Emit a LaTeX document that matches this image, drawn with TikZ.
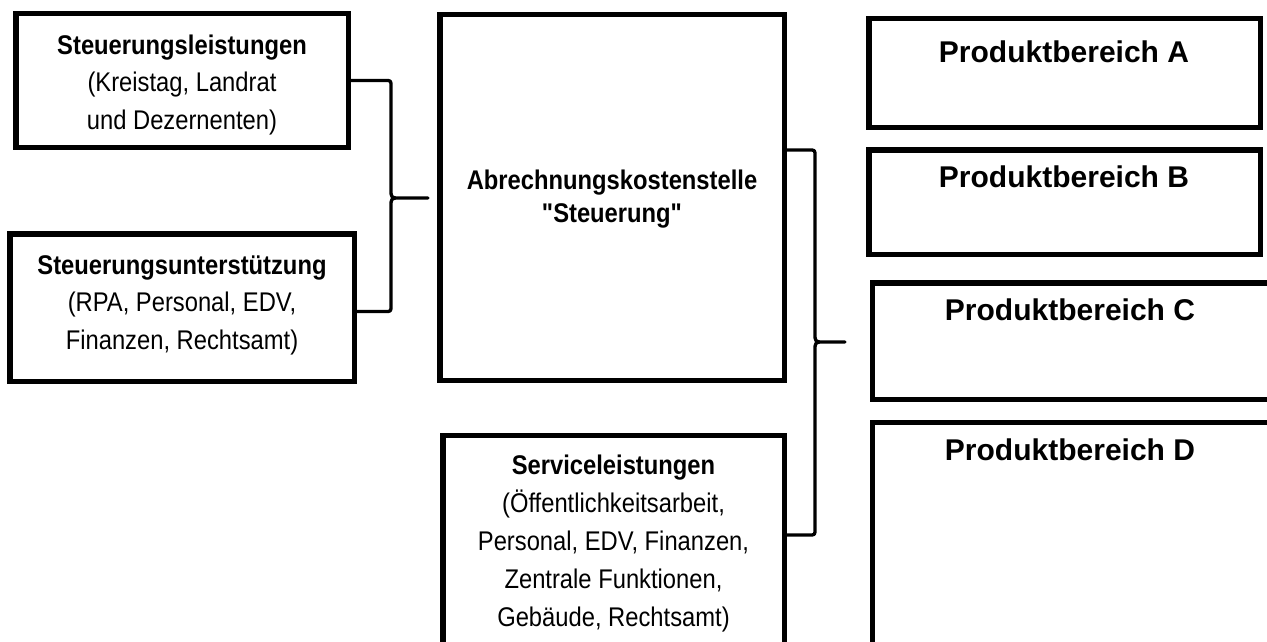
\documentclass[tikz,border=0pt]{standalone}
\usepackage{fontspec}
\setmainfont{Liberation Sans}
\newfontfamily\nar[FakeStretch=0.88]{Liberation Sans}
\begin{document}
\begin{tikzpicture}[x=1pt,y=-1pt,
  box/.style={draw, line width=5.5pt, rectangle, inner sep=0pt},
  txt/.style={font=\nar\fontsize{27}{37.5}\selectfont, align=center, inner sep=0pt, anchor=north},
  ctxt/.style={font=\nar\fontsize{27}{33}\selectfont, align=center, inner sep=0pt, anchor=north},
  stxt/.style={font=\nar\fontsize{27}{38}\selectfont, align=center, inner sep=0pt, anchor=north},
  ptxt/.style={font=\bfseries\fontsize{30}{36}\selectfont, inner sep=0pt, anchor=base},
  brace/.style={draw, line width=3.3pt, line join=round, line cap=round}]
\useasboundingbox (0,0) rectangle (1267,642);
\clip (0,0) rectangle (1267,642);
% boxes
\node[box, minimum width=332.5pt, minimum height=133.5pt] (b1) at (182,80.5) {};
\node[box, minimum width=344.5pt, minimum height=147.5pt] (b2) at (182,307.5) {};
\node[box, minimum width=344.5pt, minimum height=365.5pt] (c) at (612,197.5) {};
\node[box, minimum width=341.5pt, minimum height=222pt] (s) at (613.5,546.5) {};
\node[box, minimum width=391.5pt, minimum height=108.5pt] (pa) at (1064.5,73) {};
\node[box, minimum width=391.5pt, minimum height=104.5pt] (pb) at (1064.5,202) {};
\node[box, minimum width=397pt, minimum height=116.5pt] (pc) at (1071,341) {};
\node[box, minimum width=397pt, minimum height=235pt] (pd) at (1071,540) {};
% texts
\node[txt] (t1) at (182,27.75) {\textbf{Steuerungsleistungen}\strut\\(Kreistag, Landrat\\und Dezernenten)};
\node[txt] (t2) at (182,247.75) {\textbf{Steuerungsunterstützung}\strut\\(RPA, Personal, EDV,\\Finanzen, Rechtsamt)};
\node[ctxt] (tc) at (612,165.9) {\textbf{Abrechnungskostenstelle}\strut\\\textbf{"Steuerung"}};
\node[stxt] (ts) at (613.5,447.4) {\textbf{Serviceleistungen}\strut\\(Öffentlichkeitsarbeit,\\Personal, EDV, Finanzen,\\Zentrale Funktionen,\\Gebäude, Rechtsamt)};
\node[ptxt] (tpa) at (1064,63) {Produktbereich A};
\node[ptxt] (tpb) at (1064,187) {Produktbereich B};
\node[ptxt] (tpc) at (1070,320) {Produktbereich C};
\node[ptxt] (tpd) at (1070,460) {Produktbereich D};
% braces
\coordinate (tip1) at (428,198);
\coordinate (tip2) at (845,342);
\draw[brace] (b1.east) -- (385,80.5) .. controls (391,80.5) .. (391,86.5) -- (391,189)
  .. controls (391,198) .. (400,198) -- (tip1) -- (400,198)
  .. controls (391,198) .. (391,207) -- (391,305.5) .. controls (391,311.5) .. (385,311.5)
  -- ([yshift=-4pt]b2.east);
\draw[brace] ([yshift=47.5pt]c.east) -- (809,150) .. controls (815,150) .. (815,156) -- (815,333)
  .. controls (815,342) .. (824,342) -- (tip2) -- (824,342)
  .. controls (815,342) .. (815,351) -- (815,529) .. controls (815,535) .. (809,535)
  -- ([yshift=11.5pt]s.east);
\end{tikzpicture}
\end{document}
